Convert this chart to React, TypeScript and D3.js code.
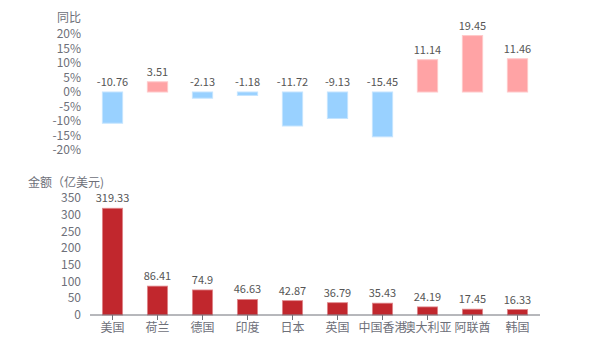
import { useEffect, useRef } from "react"
import * as d3 from "d3"

const countries = ["美国", "荷兰", "德国", "印度", "日本", "英国", "中国香港", "澳大利亚", "阿联酋", "韩国"]
const yoy = [-10.76, 3.51, -2.13, -1.18, -11.72, -9.13, -15.45, 11.14, 19.45, 11.46]
const amount = [319.33, 86.41, 74.9, 46.63, 42.87, 36.79, 35.43, 24.19, 17.45, 16.33]
const yoyTicks = [20, 15, 10, 5, 0, -5, -10, -15, -20]
const amountTicks = [0, 50, 100, 150, 200, 250, 300, 350]

const font = "'Microsoft YaHei', 'Noto Sans CJK SC', sans-serif"

export default function App() {

  const ref = useRef<SVGSVGElement | null>(null)

  useEffect(() => {

    const svg = d3.select(ref.current)
    svg.selectAll("*").remove()

    const x = d3.scaleBand()
      .domain(countries)
      .range([90, 540])
      .paddingInner(0.55)
      .paddingOuter(0.275)

    // top: year on year
    const yTop = d3.scaleLinear().domain([-20, 20]).range([150, 34])

    svg.append("text")
      .attr("x", 81).attr("y", 22)
      .attr("text-anchor", "end")
      .attr("font-size", 12).attr("fill", "#6e7079")
      .attr("font-family", font)
      .text("同比")

    svg.append("g").selectAll("text")
      .data(yoyTicks)
      .enter()
      .append("text")
      .attr("x", 81)
      .attr("y", d => yTop(d))
      .attr("dy", "0.35em")
      .attr("text-anchor", "end")
      .attr("font-size", 12).attr("fill", "#6e7079")
      .attr("font-family", font)
      .text(d => d + "%")

    const top = svg.append("g")
    top.selectAll("rect")
      .data(yoy)
      .enter()
      .append("rect")
      .attr("x", (d, i) => x(countries[i])!)
      .attr("y", d => yTop(Math.max(d, 0)))
      .attr("width", x.bandwidth())
      .attr("height", d => Math.abs(yTop(d) - yTop(0)))
      .attr("fill", d => d >= 0 ? "#ffa3a5" : "#99d1ff")
      .attr("stroke", d => d >= 0 ? "#ffc8c9" : "#c4e4ff")
      .attr("stroke-width", 1)

    top.selectAll("text")
      .data(yoy)
      .enter()
      .append("text")
      .attr("x", (d, i) => x(countries[i])! + x.bandwidth() / 2)
      .attr("y", d => d >= 0 ? yTop(d) - 6 : yTop(0) - 6)
      .attr("text-anchor", "middle")
      .attr("font-size", 11).attr("fill", "#555")
      .attr("font-family", font)
      .text(d => String(d))

    // bottom: amount
    const yBot = d3.scaleLinear().domain([0, 350]).range([315, 198])

    svg.append("text")
      .attr("x", 28).attr("y", 187)
      .attr("font-size", 12).attr("fill", "#6e7079")
      .attr("font-family", font)
      .text("金额（亿美元)")

    svg.append("g").selectAll("text")
      .data(amountTicks)
      .enter()
      .append("text")
      .attr("x", 81)
      .attr("y", d => yBot(d))
      .attr("dy", "0.35em")
      .attr("text-anchor", "end")
      .attr("font-size", 12).attr("fill", "#6e7079")
      .attr("font-family", font)
      .text(d => String(d))

    const bot = svg.append("g")
    bot.selectAll("rect")
      .data(amount)
      .enter()
      .append("rect")
      .attr("x", (d, i) => x(countries[i])!)
      .attr("y", d => yBot(d))
      .attr("width", x.bandwidth())
      .attr("height", d => yBot(0) - yBot(d))
      .attr("fill", "#c1272d")
      .attr("stroke", "#e0888c")
      .attr("stroke-width", 0.8)

    bot.selectAll("text")
      .data(amount)
      .enter()
      .append("text")
      .attr("x", (d, i) => x(countries[i])! + x.bandwidth() / 2)
      .attr("y", d => yBot(d) - 6)
      .attr("text-anchor", "middle")
      .attr("font-size", 11).attr("fill", "#555")
      .attr("font-family", font)
      .text(d => String(d))

    const axis = svg.append("g")
    axis.append("line")
      .attr("x1", 90).attr("x2", 540)
      .attr("y1", yBot(0)).attr("y2", yBot(0))
      .attr("stroke", "#6e7079")

    axis.selectAll("line.tick")
      .data(countries)
      .enter()
      .append("line")
      .attr("class", "tick")
      .attr("x1", d => x(d)! + x.bandwidth() / 2)
      .attr("x2", d => x(d)! + x.bandwidth() / 2)
      .attr("y1", yBot(0)).attr("y2", yBot(0) + 5)
      .attr("stroke", "#6e7079")

    axis.selectAll("text")
      .data(countries)
      .enter()
      .append("text")
      .attr("x", d => x(d)! + x.bandwidth() / 2)
      .attr("y", yBot(0) + 17)
      .attr("text-anchor", "middle")
      .attr("font-size", 12).attr("fill", "#6e7079")
      .attr("font-family", font)
      .text(d => d)

  }, [])

  return <svg ref={ref} width={600} height={350} style={{ position: "absolute", left: 0, top: 0 }} />
}
